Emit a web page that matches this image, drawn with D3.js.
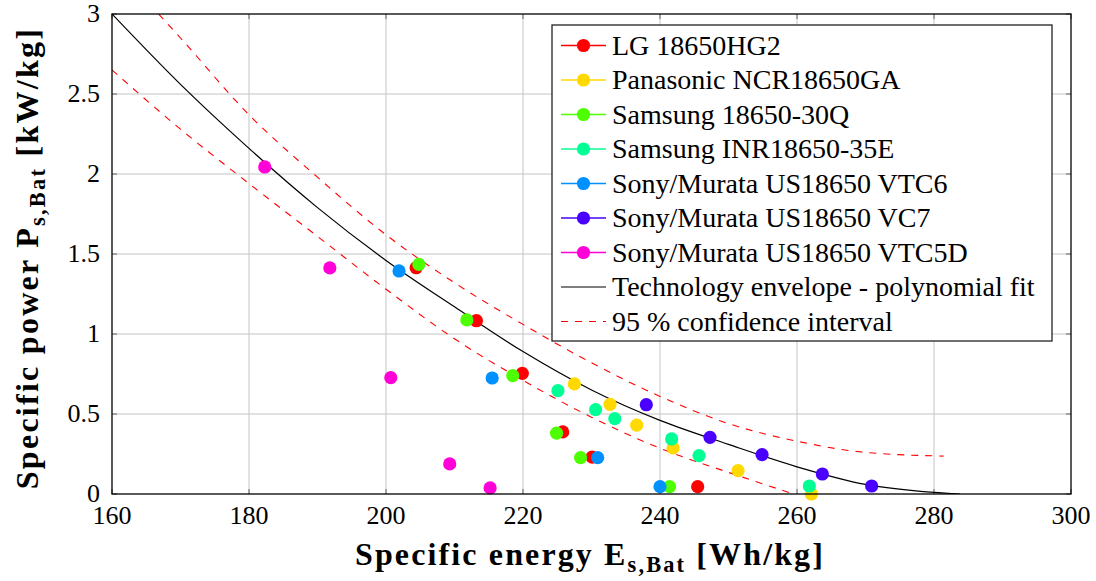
<!DOCTYPE html>
<html>
<head>
<meta charset="utf-8">
<script src="https://cdn.jsdelivr.net/npm/d3@7"></script>
<style>
  body { margin: 0; background: #fff; }
</style>
</head>
<body>
<script>
// values
const cellNames = ["LG 18650HG2", "Panasonic NCR18650GA", "Samsung 18650-30Q", "Samsung INR18650-35E",
  "Sony/Murata US18650 VTC6", "Sony/Murata US18650 VC7", "Sony/Murata US18650 VTC5D"];
const cellColors = ["#ff0000", "#ffd900", "#4dff00", "#00ff94", "#0091ff", "#4900ff", "#ff00d9"];

const energyLG = [204.4, 213.2, 219.9, 225.8, 230.1, 245.5];
const powerLG = [1.414, 1.083, 0.754, 0.388, 0.231, 0.046];
const energyGA = [227.5, 232.7, 236.6, 241.9, 251.4, 262.1];
const powerGA = [0.688, 0.560, 0.430, 0.288, 0.146, 0.0];
const energy30Q = [204.8, 211.8, 218.5, 224.9, 228.4, 241.4];
const power30Q = [1.435, 1.088, 0.740, 0.380, 0.227, 0.046];
const energy35E = [225.1, 230.6, 233.4, 241.7, 245.7, 261.8];
const power35E = [0.646, 0.527, 0.471, 0.344, 0.240, 0.050];
const energyVTC6 = [201.9, 215.5, 230.9, 240.0];
const powerVTC6 = [1.394, 0.725, 0.227, 0.046];
const energyVC7 = [238.0, 247.3, 254.9, 263.7, 270.9];
const powerVC7 = [0.558, 0.354, 0.246, 0.125, 0.050];
const energyVTC5D = [182.3, 191.8, 200.7, 209.3, 215.2];
const powerVTC5D = [2.044, 1.413, 0.727, 0.188, 0.038];

const fitEnergy = [160, 170, 180, 190, 200, 210, 220, 230, 240, 250, 260, 270, 280, 283.8];
const fitPower = [3.0, 2.56, 2.16, 1.79, 1.46, 1.17, 0.89, 0.65, 0.46, 0.31, 0.17, 0.06, 0.01, 0.0];
const upperEnergy = [166.8, 170, 180, 190, 200, 210, 220, 230, 240, 250, 260, 270, 281.4];
const upperPower = [3.0, 2.85, 2.37, 1.98, 1.62, 1.32, 1.06, 0.82, 0.61, 0.44, 0.33, 0.26, 0.237];
const lowerEnergy = [160, 170, 180, 190, 200, 210, 220, 230, 240, 250, 259.5];
const lowerPower = [2.65, 2.28, 1.94, 1.61, 1.28, 0.97, 0.71, 0.48, 0.286, 0.135, 0.0];

const xTicks = [160, 180, 200, 220, 240, 260, 280, 300];
const yTicks = [0, 0.5, 1, 1.5, 2, 2.5, 3];

const seriesEnergy = [energyLG, energyGA, energy30Q, energy35E, energyVTC6, energyVC7, energyVTC5D];
const seriesPower = [powerLG, powerGA, power30Q, power35E, powerVTC6, powerVC7, powerVTC5D];

const W = 1096, H = 581;
const mLeft = 112, mTop = 14, pw = 959, ph = 480;
const serif = "'Liberation Serif'";

// size text by the widths seen in the reference
const ctx = document.createElement("canvas").getContext("2d");
function textW(str, weight, size) {
  ctx.font = `${weight} ${size}px ${serif}`;
  return ctx.measureText(str).width;
}
const legendSize = Math.min(28, 425 / textW("Technology envelope - polynomial fit", "normal", 1));
const tickSize = Math.min(26, 39 / textW("180", "normal", 1));
const titleSize = 32;
function titleSpacing(a, b, c, target) {
  const w = textW(a, "bold", titleSize) + textW(b, "bold", titleSize * 0.7) + textW(c, "bold", titleSize);
  return Math.max(0, (target - w) / (a.length + b.length + c.length));
}

const svg = d3.select("body").append("svg")
    .attr("width", W)
    .attr("height", H);

const x = d3.scaleLinear().domain([160, 300]).range([mLeft, mLeft + pw]);
const y = d3.scaleLinear().domain([0, 3]).range([mTop + ph, mTop]);

// grid
svg.append("g").selectAll("line")
  .data(xTicks.slice(1, -1)).enter().append("line")
    .attr("x1", d => x(d)).attr("x2", d => x(d))
    .attr("y1", mTop).attr("y2", mTop + ph)
    .attr("stroke", "#c4c4c4").attr("stroke-width", 1);
svg.append("g").selectAll("line")
  .data(yTicks.slice(1, -1)).enter().append("line")
    .attr("x1", mLeft).attr("x2", mLeft + pw)
    .attr("y1", d => y(d)).attr("y2", d => y(d))
    .attr("stroke", "#c4c4c4").attr("stroke-width", 1);

// inner ticks on all sides
const tk = svg.append("g").attr("stroke", "#7a7a7a").attr("stroke-width", 1.2);
xTicks.forEach(t => {
  tk.append("line").attr("x1", x(t)).attr("x2", x(t)).attr("y1", mTop + ph).attr("y2", mTop + ph - 5);
  tk.append("line").attr("x1", x(t)).attr("x2", x(t)).attr("y1", mTop).attr("y2", mTop + 5);
});
yTicks.forEach(t => {
  tk.append("line").attr("x1", mLeft).attr("x2", mLeft + 5).attr("y1", y(t)).attr("y2", y(t));
  tk.append("line").attr("x1", mLeft + pw).attr("x2", mLeft + pw - 5).attr("y1", y(t)).attr("y2", y(t));
});

// curves
svg.append("clipPath").attr("id", "clip")
  .append("rect").attr("x", mLeft).attr("y", mTop).attr("width", pw).attr("height", ph);

const line = d3.line().x(d => x(d[0])).y(d => y(d[1])).curve(d3.curveMonotoneX);
const plot = svg.append("g").attr("clip-path", "url(#clip)");

plot.append("path")
    .attr("d", line(d3.zip(upperEnergy, upperPower)))
    .attr("fill", "none").attr("stroke", "#ff0000").attr("stroke-width", 1.1)
    .attr("stroke-dasharray", "7,7");
plot.append("path")
    .attr("d", line(d3.zip(lowerEnergy, lowerPower)))
    .attr("fill", "none").attr("stroke", "#ff0000").attr("stroke-width", 1.1)
    .attr("stroke-dasharray", "7,7");
plot.append("path")
    .attr("d", line(d3.zip(fitEnergy, fitPower)))
    .attr("fill", "none").attr("stroke", "#000").attr("stroke-width", 1.2);

// markers
seriesEnergy.forEach((es, i) => {
  svg.append("g").selectAll("circle")
    .data(d3.zip(es, seriesPower[i])).enter().append("circle")
      .attr("cx", d => x(d[0]))
      .attr("cy", d => y(d[1]))
      .attr("r", 6.6)
      .attr("fill", cellColors[i]);
});

// axis box
svg.append("rect")
    .attr("x", mLeft).attr("y", mTop).attr("width", pw).attr("height", ph)
    .attr("fill", "none").attr("stroke", "#000").attr("stroke-width", 1.3);

// tick labels
svg.append("g").selectAll("text")
  .data(xTicks).enter().append("text")
    .attr("x", d => x(d)).attr("y", 524)
    .attr("text-anchor", "middle")
    .attr("font-family", serif)
    .attr("font-size", tickSize)
    .text(d => d);
svg.append("g").selectAll("text")
  .data(yTicks).enter().append("text")
    .attr("x", 100).attr("y", d => y(d) + 8)
    .attr("text-anchor", "end")
    .attr("font-family", serif)
    .attr("font-size", tickSize)
    .text(d => d);

// axis titles
const xl = svg.append("text")
    .attr("x", 590).attr("y", 565)
    .attr("text-anchor", "middle")
    .attr("font-family", serif)
    .attr("font-size", titleSize).attr("font-weight", "bold")
    .attr("letter-spacing", titleSpacing("Specific energy E", "s,Bat", " [Wh/kg]", 470));
xl.append("tspan").text("Specific energy E");
xl.append("tspan").attr("dy", 7).attr("font-size", titleSize * 0.7).text("s,Bat");
xl.append("tspan").attr("dy", -7).text(" [Wh/kg]");

const yl = svg.append("text")
    .attr("transform", "translate(38,258) rotate(-90)")
    .attr("text-anchor", "middle")
    .attr("font-family", serif)
    .attr("font-size", titleSize).attr("font-weight", "bold")
    .attr("letter-spacing", titleSpacing("Specific power P", "s,Bat", " [kW/kg]", 463));
yl.append("tspan").text("Specific power P");
yl.append("tspan").attr("dy", 7).attr("font-size", titleSize * 0.7).text("s,Bat");
yl.append("tspan").attr("dy", -7).text(" [kW/kg]");

// legend
const lg = svg.append("g");
lg.append("rect")
    .attr("x", 552).attr("y", 25).attr("width", 500).attr("height", 316)
    .attr("fill", "#fff").attr("stroke", "#222").attr("stroke-width", 1.3);

const legendNames = cellNames.concat(["Technology envelope - polynomial fit", "95 % confidence interval"]);
legendNames.forEach((name, i) => {
  const cy = 45.5 + i * 34.5;
  const row = lg.append("g");
  if (i < cellNames.length) {
    row.append("line").attr("x1", 561).attr("x2", 606).attr("y1", cy).attr("y2", cy)
      .attr("stroke", cellColors[i]).attr("stroke-width", 1.3);
    row.append("circle").attr("cx", 583.5).attr("cy", cy).attr("r", 6.6).attr("fill", cellColors[i]);
  } else if (i === cellNames.length) {
    row.append("line").attr("x1", 561).attr("x2", 606).attr("y1", cy).attr("y2", cy)
      .attr("stroke", "#000").attr("stroke-width", 1.2);
  } else {
    row.append("line").attr("x1", 561).attr("x2", 606).attr("y1", cy).attr("y2", cy)
      .attr("stroke", "#ff0000").attr("stroke-width", 1.1).attr("stroke-dasharray", "7,7");
  }
  row.append("text")
    .attr("x", 612).attr("y", cy + 9)
    .attr("font-family", serif)
    .attr("font-size", legendSize)
    .text(name);
});
</script>
</body>
</html>
